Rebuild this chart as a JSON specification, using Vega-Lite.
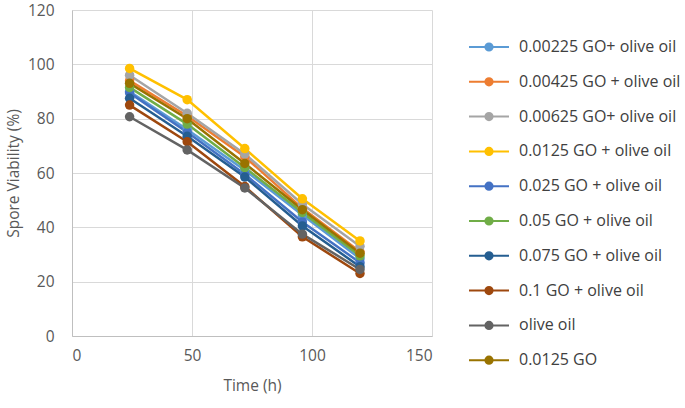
{
  "$schema": "https://vega.github.io/schema/vega-lite/v6.json",
  "width": 360,
  "height": 326,
  "autosize": "none",
  "padding": {"left": 72, "top": 10, "right": 253, "bottom": 72},
  "background": "white",
  "config": {
    "view": {"stroke": null},
    "font": "Open Sans",
    "axis": {
      "gridColor": "#D9D9D9",
      "gridWidth": 1,
      "domainColor": "#BFBFBF",
      "tickColor": "#BFBFBF",
      "ticks": false,
      "labelColor": "#595959",
      "titleColor": "#595959",
      "labelFontSize": 15.5,
      "titleFontSize": 15.5,
      "titleFontWeight": "normal",
      "labelFont": "Open Sans",
      "titleFont": "Open Sans"
    }
  },
  "data": {
    "values": [
      {"series": "0.00225 GO+ olive oil", "time": 24, "viability": 90},
      {"series": "0.00225 GO+ olive oil", "time": 48, "viability": 76},
      {"series": "0.00225 GO+ olive oil", "time": 72, "viability": 61},
      {"series": "0.00225 GO+ olive oil", "time": 96, "viability": 44.5},
      {"series": "0.00225 GO+ olive oil", "time": 120, "viability": 28.5},
      {"series": "0.00425 GO + olive oil", "time": 24, "viability": 94},
      {"series": "0.00425 GO + olive oil", "time": 48, "viability": 81},
      {"series": "0.00425 GO + olive oil", "time": 72, "viability": 66},
      {"series": "0.00425 GO + olive oil", "time": 96, "viability": 47},
      {"series": "0.00425 GO + olive oil", "time": 120, "viability": 31},
      {"series": "0.00625 GO+ olive oil", "time": 24, "viability": 96},
      {"series": "0.00625 GO+ olive oil", "time": 48, "viability": 82},
      {"series": "0.00625 GO+ olive oil", "time": 72, "viability": 67},
      {"series": "0.00625 GO+ olive oil", "time": 96, "viability": 48.5},
      {"series": "0.00625 GO+ olive oil", "time": 120, "viability": 33},
      {"series": "0.0125 GO + olive oil", "time": 24, "viability": 98.5},
      {"series": "0.0125 GO + olive oil", "time": 48, "viability": 87},
      {"series": "0.0125 GO + olive oil", "time": 72, "viability": 69},
      {"series": "0.0125 GO + olive oil", "time": 96, "viability": 50.5},
      {"series": "0.0125 GO + olive oil", "time": 120, "viability": 35},
      {"series": "0.025 GO + olive oil", "time": 24, "viability": 89.5},
      {"series": "0.025 GO + olive oil", "time": 48, "viability": 75},
      {"series": "0.025 GO + olive oil", "time": 72, "viability": 59.5},
      {"series": "0.025 GO + olive oil", "time": 96, "viability": 42},
      {"series": "0.025 GO + olive oil", "time": 120, "viability": 27},
      {"series": "0.05 GO + olive oil", "time": 24, "viability": 91.5},
      {"series": "0.05 GO + olive oil", "time": 48, "viability": 78},
      {"series": "0.05 GO + olive oil", "time": 72, "viability": 62},
      {"series": "0.05 GO + olive oil", "time": 96, "viability": 45.5},
      {"series": "0.05 GO + olive oil", "time": 120, "viability": 29.5},
      {"series": "0.075 GO + olive oil", "time": 24, "viability": 87.5},
      {"series": "0.075 GO + olive oil", "time": 48, "viability": 73.5},
      {"series": "0.075 GO + olive oil", "time": 72, "viability": 58.5},
      {"series": "0.075 GO + olive oil", "time": 96, "viability": 40.5},
      {"series": "0.075 GO + olive oil", "time": 120, "viability": 25.5},
      {"series": "0.1 GO + olive oil", "time": 24, "viability": 85},
      {"series": "0.1 GO + olive oil", "time": 48, "viability": 71.5},
      {"series": "0.1 GO + olive oil", "time": 72, "viability": 55},
      {"series": "0.1 GO + olive oil", "time": 96, "viability": 36.5},
      {"series": "0.1 GO + olive oil", "time": 120, "viability": 23},
      {"series": "olive oil", "time": 24, "viability": 80.7},
      {"series": "olive oil", "time": 48, "viability": 68.5},
      {"series": "olive oil", "time": 72, "viability": 54.5},
      {"series": "olive oil", "time": 96, "viability": 37.5},
      {"series": "olive oil", "time": 120, "viability": 24.5},
      {"series": "0.0125 GO", "time": 24, "viability": 93},
      {"series": "0.0125 GO", "time": 48, "viability": 80},
      {"series": "0.0125 GO", "time": 72, "viability": 63.5},
      {"series": "0.0125 GO", "time": 96, "viability": 46.5},
      {"series": "0.0125 GO", "time": 120, "viability": 30.5}
    ]
  },
  "encoding": {
    "x": {
      "field": "time", "type": "quantitative",
      "scale": {"domain": [0, 150]},
      "axis": {"values": [0, 50, 100, 150], "title": "Time (h)", "titlePadding": 15, "labelPadding": 12, "domain": true}
    },
    "y": {
      "field": "viability", "type": "quantitative",
      "scale": {"domain": [0, 120]},
      "axis": {"values": [0, 20, 40, 60, 80, 100, 120], "title": "Spore Viability (%)", "titlePadding": 6, "labelPadding": 18}
    },
    "color": {
      "field": "series", "type": "nominal",
      "scale": {
        "domain": ["0.00225 GO+ olive oil", "0.00425 GO + olive oil", "0.00625 GO+ olive oil", "0.0125 GO + olive oil", "0.025 GO + olive oil", "0.05 GO + olive oil", "0.075 GO + olive oil", "0.1 GO + olive oil", "olive oil", "0.0125 GO"],
        "range": ["#5B9BD5", "#ED7D31", "#A5A5A5", "#FFC000", "#4472C4", "#70AD47", "#255E91", "#9E480E", "#636363", "#997300"]
      },
      "legend": {
        "title": null,
        "orient": "none",
        "legendX": 408,
        "legendY": 28,
        "symbolType": "M-2.5,0H2.5M0.45,0A0.45,0.45,0,1,1,-0.45,0A0.45,0.45,0,1,1,0.45,0Z",
        "symbolSize": 256,
        "symbolStrokeWidth": 2,
        "labelOffset": 21,
        "labelFontSize": 16,
        "labelColor": "#404040",
        "labelFont": "Open Sans",
        "labelLimit": 300,
        "rowPadding": 17.8,
        "encode": {"symbols": {"update": {"fill": {"scale": "color", "field": "value"}}}}
      }
    }
  },
  "layer": [
    {"mark": {"type": "line", "strokeWidth": 2.5}},
    {"mark": {"type": "point", "filled": true, "size": 90, "opacity": 1}}
  ]
}
